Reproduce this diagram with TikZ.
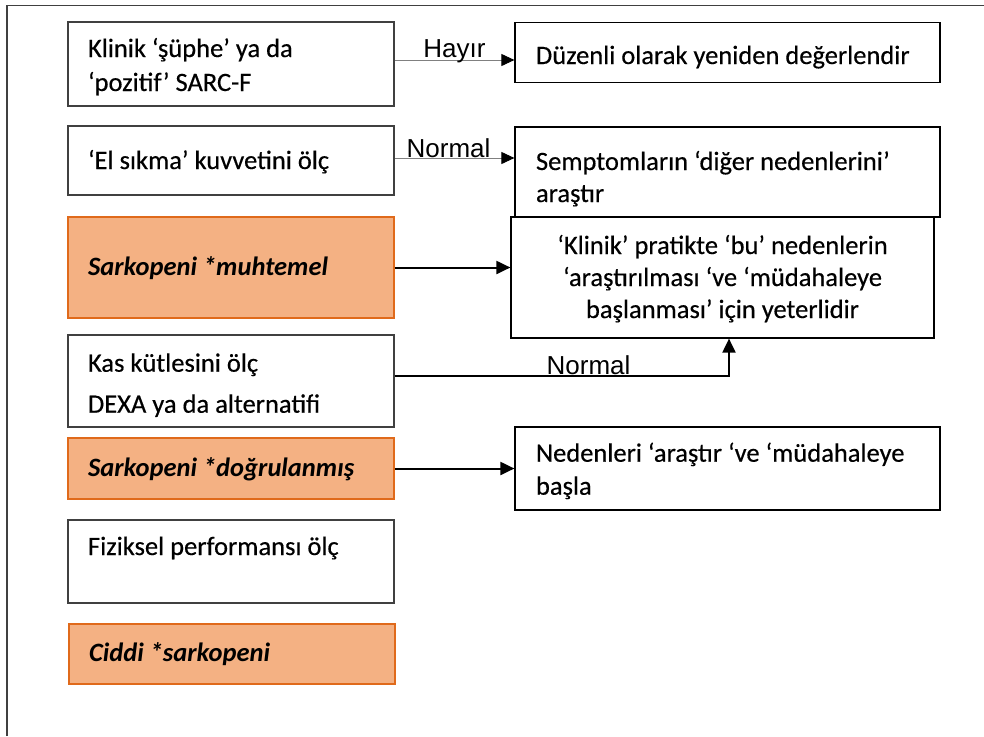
\documentclass[tikz,border=0pt]{standalone}
\usepackage{fontspec}
\setmainfont{Carlito}[UprightFeatures={FakeBold=0.4}]
\newfontfamily\labfont{Liberation Sans}
\usetikzlibrary{arrows.meta,calc}
\definecolor{orfill}{HTML}{F4B183}
\definecolor{ordraw}{HTML}{E06A1B}
\definecolor{framecol}{HTML}{404040}
\newcommand{\bodyfont}{\fontsize{26.5}{33}\selectfont\hyphenpenalty=10000\relax\exhyphenpenalty=10000\relax}
\newcommand{\boldbodyfont}{\fontsize{26.5}{33}\selectfont\bfseries\itshape\hyphenpenalty=10000\relax}
% #1 box height, #2 first baseline from top, #3 text
\newcommand{\ltxt}[3]{\parbox[c][#1pt][t]{286pt}{\raggedright\rule{0pt}{#2pt}#3}}
\newcommand{\rtxt}[3]{\parbox[c][#1pt][t]{383pt}{\raggedright\rule{0pt}{#2pt}#3}}
\newcommand{\ctxt}[3]{\parbox[c][#1pt][t]{383pt}{\centering\rule{0pt}{#2pt}#3}}
\begin{document}
\begin{tikzpicture}[x=1pt,y=-1pt,
  font=\bodyfont,
  lbox/.style={draw=framecol, line width=1.2pt, fill=white, inner xsep=20pt, inner ysep=0pt},
  obox/.style={lbox, draw=ordraw, fill=orfill, font=\boldbodyfont},
  rbox/.style={draw=black, line width=1.2pt, fill=white, inner xsep=21pt, inner ysep=0pt},
  thinarr/.style={draw=gray, line width=0.9pt, -{Triangle[length=13pt,width=12pt,color=black]}},
  thickarr/.style={draw=black, line width=2pt, -{Triangle[length=14pt,width=13pt]}},
  lab/.style={font=\labfont\fontsize{26}{26}\selectfont, anchor=base, inner sep=0pt},
  framestyle/.style={draw=framecol, line width=1.5pt}
]
\useasboundingbox (0,0) rectangle (984,736);
\draw[framestyle] (7,736) -- (7,5.5) -- (984,5.5);

% left column
\node[lbox] (b1) at (231,64) {\ltxt{84}{35}{Klinik ‘şüphe’ ya da\\[1pt]‘pozitif’ SARC-F}};
\node[lbox] (b2) at (231,160.5) {\ltxt{69}{43}{‘El sıkma’ kuvvetini ölç}};
\node[obox] (b3) at (231,267.5) {\ltxt{101}{58.5}{Sarkopeni *muhtemel}};
\node[lbox] (b4) at (231,381) {\ltxt{92}{36.7}{Kas kütlesini ölç\\[8pt]DEXA ya da alternatifi}};
\node[obox] (b5) at (231,468.5) {\ltxt{61}{38.7}{Sarkopeni *doğrulanmış}};
\node[lbox] (b6) at (231,561.5) {\ltxt{83}{35}{Fiziksel performansı ölç}};
\node[obox] (b7) at (232,654) {\ltxt{60}{37.7}{Ciddi *sarkopeni}};

% right column
\node[rbox] (r1) at (727.5,52.5) {\rtxt{60}{41.5}{Düzenli olarak yeniden değerlendir}};
\node[rbox] (r2) at (727.5,172) {\rtxt{90}{43}{Semptomların ‘diğer nedenlerini’\\[-1pt]araştır}};
\node[rbox, inner xsep=20pt] (r3) at (722.5,277.5) {\ctxt{121}{37}{‘Klinik’ pratikte ‘bu’ nedenlerin\\[-1pt]‘araştırılması ‘ve ‘müdahaleye\\[-1pt]başlanması’ için yeterlidir}};
\node[rbox] (r4) at (727.5,468.5) {\rtxt{83}{34.7}{Nedenleri ‘araştır ‘ve ‘müdahaleye\\başla}};

% connectors
\coordinate (h1) at ([yshift=4pt]b1.east);
\draw[thinarr] (h1) -- node[lab, pos=0.5, yshift=3pt] {Hayır} (h1 -| r1.west);
\coordinate (h2) at ([yshift=2.5pt]b2.east);
\draw[thinarr] (h2) -- node[lab, pos=0.45, yshift=1pt] {Normal} (h2 -| r2.west);
\draw[thickarr] (b3.east) -- (b3.east -| r3.west);
\coordinate (k4) at ([yshift=5pt]b4.east);
\coordinate (k3) at ([xshift=6.5pt]r3.south);
\draw[thickarr] (k4) -- node[lab, pos=0.58, yshift=2pt] {Normal} (k4 -| k3) -- (k3);
\draw[thickarr] (b5.east) -- (b5.east -| r4.west);
\end{tikzpicture}
\end{document}
